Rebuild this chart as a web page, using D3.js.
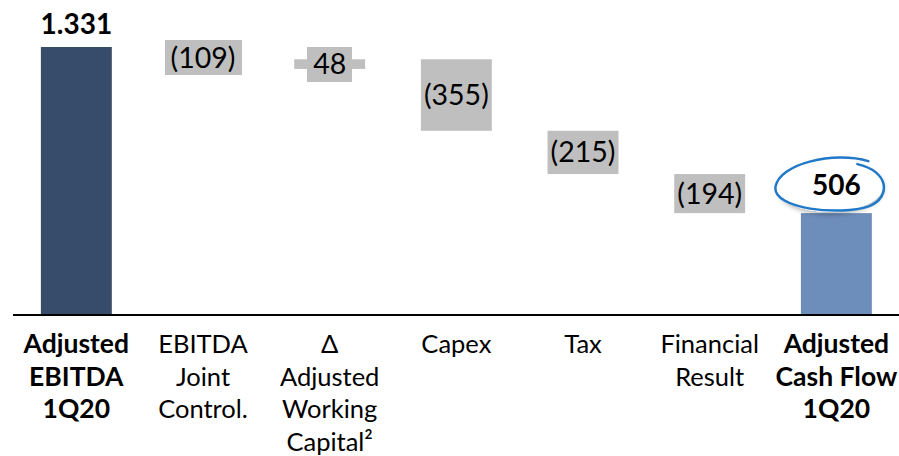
<!DOCTYPE html>
<html>
<head>
<meta charset="utf-8">
<script src="https://cdn.jsdelivr.net/npm/d3@7"></script>
<style>
  html, body { margin: 0; padding: 0; background: #fff; }
  svg { display: block; font-family: Lato, "Open Sans", sans-serif; }
</style>
</head>
<body>
<script>
// categories (each line of the x label)
const categories = [
  ["Adjusted", "EBITDA", "1Q20"],
  ["EBITDA", "Joint", "Control."],
  ["Δ", "Adjusted", "Working", "Capital²"],
  ["Capex"],
  ["Tax"],
  ["Financial", "Result"],
  ["Adjusted", "Cash Flow", "1Q20"]
];
const kinds = ["total", "delta", "delta", "delta", "delta", "delta", "total"];
const values = [1331, -109, 48, -355, -215, -194, 506];
const valueLabels = ["1.331", "(109)", "48", "(355)", "(215)", "(194)", "506"];

const width = 899;
const height = 456;
const baseY = 315;

const svg = d3.select("body").append("svg")
  .attr("width", width)
  .attr("height", height);

// running totals for the waterfall
let run = 0;
const bars = values.map((v, i) => {
  let y0, y1;
  if (kinds[i] === "total") { y0 = 0; y1 = v; run = v; }
  else { y0 = run; y1 = run + v; run = y1; }
  return { i, v, kind: kinds[i], lo: Math.min(y0, y1), hi: Math.max(y0, y1), label: valueLabels[i], cat: categories[i] };
});

const x = d3.scaleBand()
  .domain(d3.range(categories.length))
  .range([13, 899.7])
  .paddingInner(0.44)
  .paddingOuter(0.22);

const y = d3.scaleLinear()
  .domain([0, 1331])
  .range([baseY, 47]);

const fills = { first: "#374b6a", last: "#6d8dbb", delta: "#bfbfbf" };
const fillOf = d => d.kind === "delta" ? fills.delta : (d.i === 0 ? fills.first : fills.last);

// bars
svg.append("g")
  .selectAll("rect")
  .data(bars)
  .join("rect")
  .attr("x", d => x(d.i))
  .attr("width", x.bandwidth())
  .attr("y", d => y(d.hi))
  .attr("height", d => y(d.lo) - y(d.hi))
  .attr("fill", fillOf);

// axis line
svg.append("line")
  .attr("x1", 13).attr("x2", width)
  .attr("y1", baseY).attr("y2", baseY)
  .attr("stroke", "#000")
  .attr("stroke-width", 2);

// delta labels, grey box behind the text when the bar is too thin
const boxH = 35;
const deltaG = svg.append("g");
bars.filter(d => d.kind === "delta").forEach(d => {
  const cx = x(d.i) + x.bandwidth() / 2;
  const cy = (y(d.lo) + y(d.hi)) / 2;
  const barH = y(d.lo) - y(d.hi);
  const g = deltaG.append("g");
  const bg = g.append("rect").attr("fill", fills.delta);
  const t = g.append("text")
    .attr("x", cx)
    .attr("y", cy + 10)
    .attr("text-anchor", "middle")
    .attr("font-size", 28.5)
    .attr("fill", "#000")
    .text(d.label);
  if (barH < boxH) {
    const w = t.node().getComputedTextLength();
    bg.attr("x", Math.round(cx - w / 2 - 6))
      .attr("width", Math.round(w + 12))
      .attr("y", Math.round(cy - boxH / 2))
      .attr("height", boxH);
  } else {
    bg.remove();
  }
});

// total labels
const first = bars[0];
svg.append("text")
  .attr("x", x(0) + x.bandwidth() / 2)
  .attr("y", 34)
  .attr("text-anchor", "middle")
  .attr("font-size", 28)
  .attr("font-weight", "bold")
  .text(first.label);

// hand drawn circle around the final value
const last = bars[bars.length - 1];
const ex = x(last.i) + x.bandwidth() / 2 - 7;
const ey = y(last.hi) - 28;
const defs = svg.append("defs");
const flt = defs.append("filter").attr("id", "shadow").attr("x", "-20%").attr("y", "-20%").attr("width", "140%").attr("height", "150%");
flt.append("feDropShadow").attr("dx", 1).attr("dy", 3).attr("stdDeviation", 2).attr("flood-color", "#000").attr("flood-opacity", 0.25);

svg.append("ellipse")
  .attr("cx", ex).attr("cy", ey)
  .attr("rx", 54).attr("ry", 27)
  .attr("fill", "#fff")
  .attr("filter", "url(#shadow)");

const loop = d3.path();
loop.moveTo(ex + 39, ey - 24);
loop.bezierCurveTo(ex + 5, ey - 34, ex - 50, ey - 22, ex - 54, ey + 2);
loop.bezierCurveTo(ex - 56, ey + 24, ex + 10, ey + 31, ex + 40, ey + 21);
loop.bezierCurveTo(ex + 62, ey + 12, ex + 60, ey - 14, ex + 28, ey - 21);
svg.append("path")
  .attr("d", loop.toString())
  .attr("fill", "none")
  .attr("stroke", "#1f78c8")
  .attr("stroke-width", 2.5)
  .attr("stroke-linecap", "round");

svg.append("text")
  .attr("x", ex + 7)
  .attr("y", ey + 10)
  .attr("text-anchor", "middle")
  .attr("font-size", 28)
  .attr("font-weight", "bold")
  .text(last.label);

// category labels
const lineH = 32.5;
const catG = svg.append("g")
  .selectAll("text")
  .data(bars)
  .join("text")
  .attr("x", d => x(d.i) + x.bandwidth() / 2)
  .attr("y", 353)
  .attr("text-anchor", "middle")
  .attr("font-size", d => d.kind === "total" ? 26.5 : 25.5)
  .attr("font-weight", d => d.kind === "total" ? "bold" : "normal")
  .attr("fill", "#000");

catG.selectAll("tspan")
  .data(d => d.cat)
  .join("tspan")
  .attr("x", function() { return d3.select(this.parentNode).attr("x"); })
  .attr("dy", (d, i) => i === 0 ? 0 : lineH)
  .text(d => d);
</script>
</body>
</html>
